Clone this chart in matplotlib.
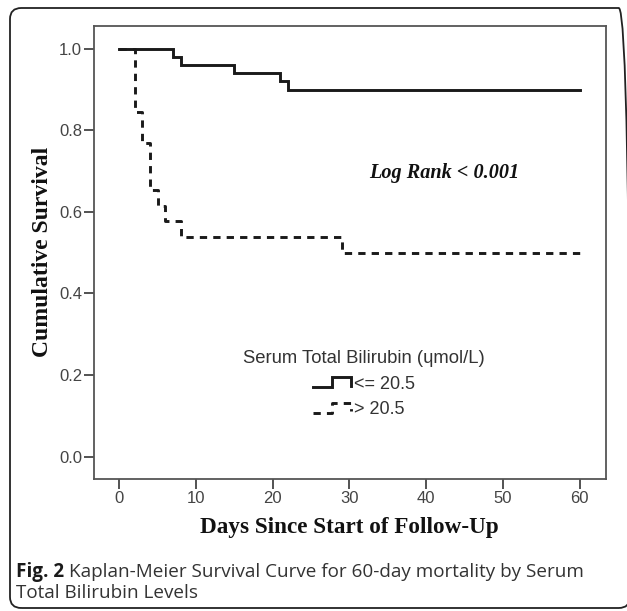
import numpy as np
import matplotlib
matplotlib.use("Agg")
import matplotlib.pyplot as plt
from matplotlib.lines import Line2D
from matplotlib.legend_handler import HandlerBase
from matplotlib.patches import FancyBboxPatch

# Kaplan-Meier steps (days, cumulative survival)
dias_bajo = [0, 7, 8, 15, 21, 22, 60]
surv_bajo = [1.0, 0.98, 0.96, 0.94, 0.92, 0.90, 0.90]

dias_alto = [0, 2, 3, 4, 5, 6, 8, 29, 60]
surv_alto = [1.0, 0.846, 0.769, 0.654, 0.615, 0.577, 0.538, 0.50, 0.50]

etiquetas = ["<= 20.5", "> 20.5"]
x_ticks = [0, 10, 20, 30, 40, 50, 60]
y_ticks = [0.0, 0.2, 0.4, 0.6, 0.8, 1.0]

W, H = 627, 611


class StepHandler(HandlerBase):
    # little step symbol like the SPSS legend
    def create_artists(self, legend, orig_handle, xdescent, ydescent,
                       width, height, fontsize, trans):
        xs = np.array([0, 0.5, 0.5, 1.0, 1.0]) * width - xdescent
        ys = np.array([0.1, 0.1, 0.9, 0.9, 0.25]) * height - ydescent
        line = Line2D(xs, ys)
        line.update_from(orig_handle)
        line.set_transform(trans)
        return [line]


fig = plt.figure(figsize=(W / 100, H / 100), dpi=100)

# rounded frame round the whole figure
marco = FancyBboxPatch((10 / W, 1 - 608 / H), 620 / W, 600 / H,
                       boxstyle="round,pad=0,rounding_size=0.018",
                       transform=fig.transFigure, fill=False,
                       edgecolor="#222222", linewidth=1.3)
fig.patches.append(marco)

ax = fig.add_axes([94 / W, 1 - 479 / H, (605.7 - 94) / W, (479 - 26) / H])

l1, = ax.step(dias_bajo, surv_bajo, where="post", color="#1a1a1a",
              linewidth=2.1, solid_joinstyle="miter")
l2, = ax.step(dias_alto, surv_alto, where="post", color="#1a1a1a",
              linewidth=2.1, dashes=(2.5, 2.1))

ax.set_xlim(-3.3, 63.4)
ax.set_ylim(-0.055, 1.056)
ax.set_xticks(x_ticks)
ax.set_yticks(y_ticks)
ax.set_xticklabels([str(t) for t in x_ticks])
ax.set_yticklabels([f"{t:.1f}" for t in y_ticks])
ax.tick_params(axis="both", direction="out", length=7, width=1.3,
               color="#444444", labelcolor="#444444", labelsize=12,
               pad=1.5)
for lab in ax.get_xticklabels() + ax.get_yticklabels():
    lab.set_fontfamily("Liberation Sans")
for s in ax.spines.values():
    s.set_color("#555555")
    s.set_linewidth(1.3)

ax.text((444 - 94) / 511.7, (479 - 173) / 453, "Log Rank < 0.001",
        transform=ax.transAxes, ha="center", va="center",
        fontsize=14.6, fontweight="bold", fontstyle="italic",
        family="Liberation Serif", color="#111111")

leg = ax.legend([l1, l2], etiquetas, title="Serum Total Bilirubin (\u0265mol/L)",
                handler_map={Line2D: StepHandler()},
                loc="upper center", bbox_to_anchor=((364 - 94) / 511.7, (479 - 341) / 453),
                frameon=False, fontsize=13, title_fontsize=13.3,
                handlelength=2.1, handletextpad=0.2, labelspacing=0.48,
                borderpad=0, prop={"family": "Liberation Sans", "size": 13})
leg.get_title().set_fontfamily("Liberation Sans")
leg.get_title().set_color("#333333")
for t in leg.get_texts():
    t.set_color("#333333")

fig.text(43 / W, 1 - 252 / H, "Cumulative Survival", rotation=90,
         ha="center", va="center", fontsize=17, fontweight="bold",
         family="Liberation Serif", color="#111111")
fig.text(349 / W, 1 - 527 / H, "Days Since Start of Follow-Up",
         ha="center", va="center", fontsize=16.7, fontweight="bold",
         family="Liberation Serif", color="#111111")

# caption
fig.canvas.draw()
rend = fig.canvas.get_renderer()
t1 = fig.text(16 / W, 1 - 577 / H, "Fig. 2", ha="left", va="baseline",
              fontsize=13.6, fontweight="bold", family="Open Sans",
              color="#1a1a1a")
bb = t1.get_window_extent(rend)
fig.text(bb.x1 / W + 5 / W, 1 - 577 / H,
         "Kaplan-Meier Survival Curve for 60-day mortality by Serum",
         ha="left", va="baseline", fontsize=13.6, family="Open Sans",
         color="#333333")
fig.text(16 / W, 1 - 598 / H, "Total Bilirubin Levels", ha="left",
         va="baseline", fontsize=13.6, family="Open Sans", color="#333333")

fig.savefig("out.png", dpi=100)
